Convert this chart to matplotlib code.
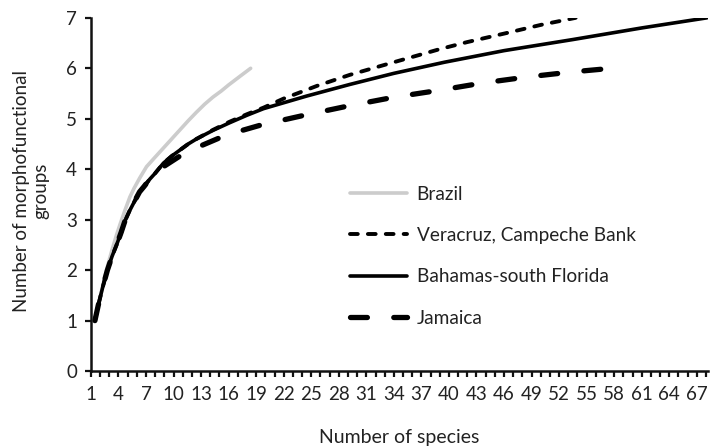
import matplotlib
matplotlib.use("Agg")
import matplotlib.pyplot as plt
from matplotlib.ticker import FixedLocator, NullFormatter

plt.rcParams['font.family'] = ['Lato', 'DejaVu Sans']

# Accumulation curves: number of species vs. number of morphofunctional groups
brazil_x = [1.44, 1.8, 2.3, 2.8, 3.3, 3.8, 4.2, 4.7, 5.25, 5.7, 6.3, 7.06, 8.0,
            8.9, 9.8, 10.7, 11.6, 12.5, 13.4, 14.3, 15.2, 16.0, 17.3, 18.4]
brazil_y = [1.0, 1.3, 1.7, 2.07, 2.4, 2.7, 2.92, 3.18, 3.45, 3.62, 3.82, 4.05,
            4.24, 4.42, 4.6, 4.78, 4.96, 5.13, 5.29, 5.43, 5.55, 5.67, 5.85, 6.0]

veracruz_x = [1.44, 1.8, 2.3, 2.8, 3.3, 3.8, 4.3, 4.7, 5.2, 5.8, 6.3, 6.8, 7.4,
              8.0, 8.9, 9.8, 10.7, 11.6, 12.5, 14.3, 16.1, 18.0, 19.8, 22.0,
              25.6, 29.2, 33.6, 39.0, 42.0, 46.3, 50.0, 53.8]
veracruz_y = [1.0, 1.3, 1.67, 2.0, 2.27, 2.5, 2.75, 2.97, 3.17, 3.38, 3.55, 3.66,
              3.8, 3.92, 4.12, 4.26, 4.38, 4.5, 4.6, 4.78, 4.94, 5.09, 5.22, 5.4,
              5.65, 5.87, 6.1, 6.38, 6.52, 6.7, 6.86, 7.0]

bahamas_x = [1.44, 1.8, 2.3, 2.8, 3.3, 3.8, 4.3, 4.7, 5.2, 5.8, 6.3, 6.8, 7.4,
             8.0, 8.9, 9.8, 10.7, 11.6, 12.5, 14.3, 16.1, 18.0, 19.8, 24.5, 29.2,
             34.0, 39.5, 46.0, 53.5, 61.0, 68.1]
bahamas_y = [1.0, 1.3, 1.67, 2.0, 2.27, 2.5, 2.75, 2.97, 3.17, 3.38, 3.55, 3.66,
             3.8, 3.92, 4.12, 4.26, 4.38, 4.5, 4.6, 4.77, 4.92, 5.07, 5.2, 5.45,
             5.68, 5.9, 6.12, 6.35, 6.57, 6.8, 7.0]

jamaica_x = [1.44, 1.8, 2.3, 2.8, 3.3, 3.8, 4.3, 4.7, 5.2, 5.8, 6.3, 6.8, 7.4,
             8.9, 10.6, 12.8, 15.0, 17.3, 19.6, 24.5, 29.2, 34.1, 38.8, 43.7,
             48.6, 53.5, 57.7]
jamaica_y = [1.0, 1.3, 1.67, 2.0, 2.27, 2.5, 2.75, 2.97, 3.17, 3.38, 3.55, 3.66,
             3.8, 4.05, 4.25, 4.45, 4.62, 4.76, 4.88, 5.08, 5.26, 5.43, 5.56,
             5.71, 5.83, 5.93, 6.0]

labels = ["Brazil", "Veracruz, Campeche Bank", "Bahamas-south Florida", "Jamaica"]
x_tick_labels = list(range(1, 68, 3))
y_ticks = list(range(0, 8))

TEXT = "#222222"

fig = plt.figure(figsize=(7.10, 4.46), dpi=100)
ax = fig.add_axes([0.128, 0.168, 0.869, 0.792])

ax.plot(brazil_x, brazil_y, color="#cccccc", lw=2.6, solid_capstyle="round",
        solid_joinstyle="round", label=labels[0])
ax.plot(veracruz_x, veracruz_y, color="black", lw=2.8, dashes=(2.0, 2.6),
        dash_capstyle="round", label=labels[1])
ax.plot(bahamas_x, bahamas_y, color="black", lw=2.6, solid_capstyle="round",
        solid_joinstyle="round", label=labels[2])
ax.plot(jamaica_x, jamaica_y, color="black", lw=3.8, dashes=(3.2, 5.0),
        dash_capstyle="round", label=labels[3])

ax.set_xlim(1, 68.2)
ax.set_ylim(0, 7)

ax.xaxis.set_major_locator(FixedLocator(x_tick_labels))
ax.xaxis.set_minor_locator(FixedLocator(list(range(1, 69))))
ax.xaxis.set_minor_formatter(NullFormatter())
ax.set_yticks(y_ticks)

for s in ["top", "right"]:
    ax.spines[s].set_visible(False)
for s in ["left", "bottom"]:
    ax.spines[s].set_linewidth(1.8)
    ax.spines[s].set_color("#111111")

ax.tick_params(axis="both", which="both", direction="out", length=4, width=1.6,
               color="#111111", labelsize=13.5, labelcolor=TEXT)
ax.tick_params(axis="x", which="both", pad=7)
ax.tick_params(axis="y", pad=6)

ax.set_xlabel("Number of species", fontsize=14, color=TEXT)
ax.xaxis.set_label_coords(0.5, -0.163)
ax.set_ylabel("Number of morphofunctional\ngroups", fontsize=13.5,
              color=TEXT, linespacing=1.15)
ax.yaxis.set_label_coords(-0.068, 0.51)

leg = ax.legend(loc="center left", bbox_to_anchor=(0.42, 0.325), frameon=False,
                fontsize=13.7, handlelength=3.0, handletextpad=0.5,
                labelspacing=1.28, borderpad=0, borderaxespad=0)
for t in leg.get_texts():
    t.set_color(TEXT)

fig.savefig("out.png", dpi=100)
